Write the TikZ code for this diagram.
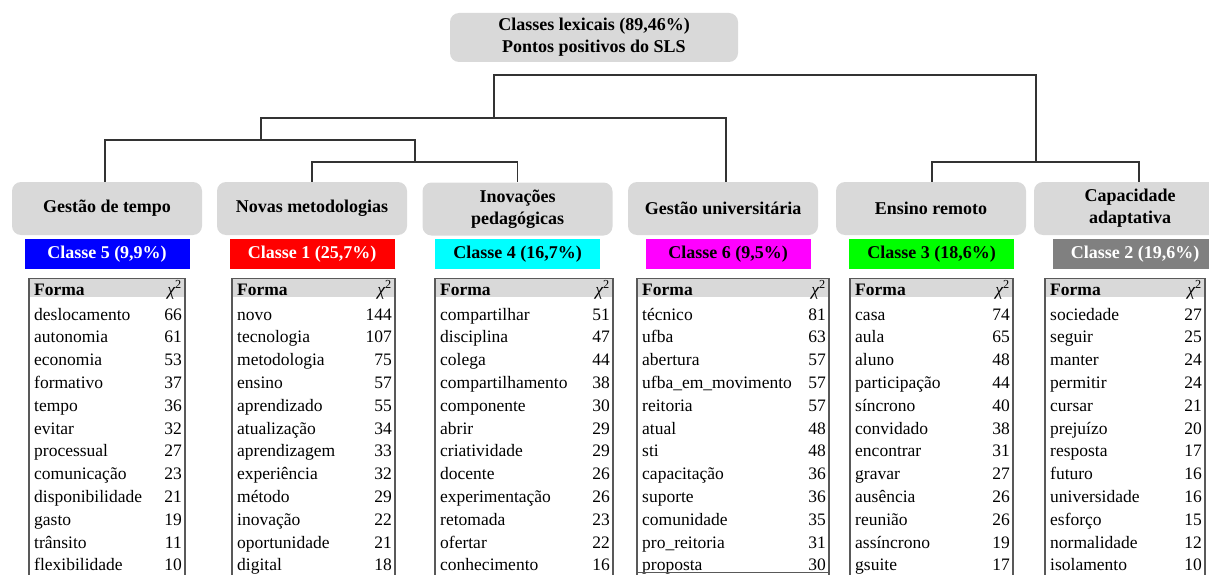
\documentclass[tikz,border=0pt]{standalone}
\usepackage{fontspec}
\setmainfont{LiberationSerif}[Extension=.ttf,UprightFont=*-Regular,BoldFont=*-Bold,
    ItalicFont=*-Italic,BoldItalicFont=*-BoldItalic]
\newfontfamily\tnrfont{LiberationSerif}[Extension=.ttf,UprightFont=*-Regular,
    BoldFont=*-Bold,ItalicFont=*-Italic,BoldItalicFont=*-BoldItalic]
\usepackage{tikz}

\definecolor{boxgray}{HTML}{D9D9D9}
\definecolor{linegray}{HTML}{333333}
\definecolor{tabgray}{HTML}{595959}
\definecolor{midgray}{HTML}{808080}
\definecolor{clsblue}{HTML}{0000FF}
\definecolor{clsred}{HTML}{FF0000}
\definecolor{clscyan}{HTML}{00FFFF}
\definecolor{clsmagenta}{HTML}{FF00FF}
\definecolor{clsgreen}{HTML}{00FF00}

% one word list: left edge, right edge, name, word/chi2 pairs
\newcommand{\formtable}[4]{%
    \fill[boxgray] (#1,279) rectangle (#2,297);
    \draw[tabline] (#1,590) -- (#1,278.5) -- (#2,278.5) -- (#2,590);
    \node[word,font=\tnrfont\fontsize{17.5}{20}\selectfont\bfseries] (#3h) at (#1+5,295) {Forma};
    \node[num] (#3x) at (#2-3,295) {{\itshape χ}\textsuperscript{2}};
    \foreach \w/\n [count=\i from 0] in {#4} {
        \node[word] (#3w\i) at (#1+5,320+22.8*\i) {\w};
        \node[num]  (#3n\i) at (#2-3,320+22.8*\i) {\n};
    }%
}

\begin{document}
\begin{tikzpicture}[x=1pt,y=-1pt,
    every node/.style={font=\tnrfont\fontsize{18}{22}\selectfont},
    topic/.style={rectangle,rounded corners=9pt,fill=boxgray,minimum width=190pt,
        minimum height=53pt,align=center,font=\tnrfont\fontsize{18}{22}\selectfont\bfseries},
    cls/.style={rectangle,minimum width=165pt,minimum height=30pt,inner sep=0pt,
        font=\tnrfont\fontsize{18}{20}\selectfont\bfseries},
    link/.style={draw=linegray,line width=1.6pt},
    tabline/.style={draw=tabgray,line width=1.4pt},
    word/.style={anchor=base west,inner sep=0pt,font=\tnrfont\fontsize{17.5}{20}\selectfont},
    num/.style={anchor=base east,inner sep=0pt,font=\tnrfont\fontsize{17.5}{20}\selectfont}]
    \useasboundingbox (0,0) rectangle (1209,575);
    \clip (0,0) rectangle (1209,575);

    % Root
    \node[topic,minimum width=288pt,minimum height=49pt] (root) at (594,37.5)
        {Classes lexicais (89,46\%)\\Pontos positivos do SLS};

    % Topics
    \node[topic] (c5) at (107,208.5) {Gestão de tempo};
    \node[topic] (c1) at (312,208.5) {Novas metodologias};
    \node[topic] (c4) at (517.5,209) {Inovações\\pedagógicas};
    \node[topic] (c6) at (723,208.5) {Gestão universitária};
    \node[topic] (c3) at (931,208.5) {Ensino remoto};
    \node[topic,minimum width=192pt] (c2) at (1130,208.5) {Capacidade\\adaptativa};

    % Classes
    \node[cls,fill=clsblue,text=white] (l5) at (107,254)   {Classe 5 (9,9\%)};
    \node[cls,fill=clsred,text=white]  (l1) at (312,254)   {Classe 1 (25,7\%)};
    \node[cls,fill=clscyan]            (l4) at (517.5,254) {Classe 4 (16,7\%)};
    \node[cls,fill=clsmagenta]         (l6) at (728,254)   {Classe 6 (9,5\%)};
    \node[cls,fill=clsgreen]           (l3) at (931.5,254) {Classe 3 (18,6\%)};
    \node[cls,fill=midgray,text=white] (l2) at (1135,254)  {Classe 2 (19,6\%)};

    % Dendrogram
    \coordinate (k0) at (765,75);
    \coordinate (k1) at (1036,162);
    \coordinate (k2) at (494,118);
    \coordinate (k3) at (261,140);
    \coordinate (k4) at (415,162);
    \draw[link] (c1.north) |- (k4) -| (c4.north);
    \draw[link] ([xshift=-2pt]c5.north) |- (k3) -| (k4);
    \draw[link] (k3) |- (k2) -| ([xshift=3pt]c6.north);
    \draw[link] ([xshift=1pt]c3.north) |- (k1) -| ([xshift=9pt]c2.north);
    \draw[link] (k2) |- (k0) -| (k1);

    % Word lists
    \formtable{29}{185}{t5}{deslocamento/66, autonomia/61, economia/53, formativo/37,
        tempo/36, evitar/32, processual/27, comunicação/23, disponibilidade/21,
        gasto/19, trânsito/11, flexibilidade/10}
    \formtable{232}{395}{t1}{novo/144, tecnologia/107, metodologia/75, ensino/57,
        aprendizado/55, atualização/34, aprendizagem/33, experiência/32, método/29,
        inovação/22, oportunidade/21, digital/18}
    \formtable{435}{613}{t4}{compartilhar/51, disciplina/47, colega/44,
        compartilhamento/38, componente/30, abrir/29, criatividade/29, docente/26,
        experimentação/26, retomada/23, ofertar/22, conhecimento/16}
    \formtable{637}{829}{t6}{técnico/81, ufba/63, abertura/57, ufba\_em\_movimento/57,
        reitoria/57, atual/48, sti/48, capacitação/36, suporte/36, comunidade/35,
        pro\_reitoria/31, proposta/30}
    \formtable{850}{1013}{t3}{casa/74, aula/65, aluno/48, participação/44, síncrono/40,
        convidado/38, encontrar/31, gravar/27, ausência/26, reunião/26, assíncrono/19,
        gsuite/17}
    \formtable{1045}{1205}{t2}{sociedade/27, seguir/25, manter/24, permitir/24,
        cursar/21, prejuízo/20, resposta/17, futuro/16, universidade/16, esforço/15,
        normalidade/12, isolamento/10}
    \draw[tabline] (637,572.5) -- (829,572.5);

\end{tikzpicture}
\end{document}
